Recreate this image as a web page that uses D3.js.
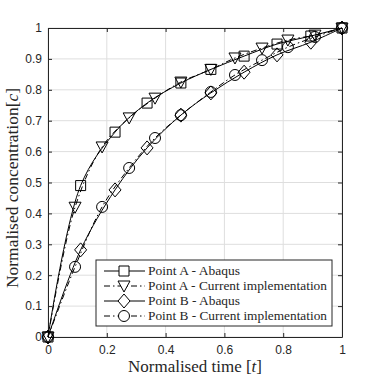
<!DOCTYPE html>
<html lang="en">
<head>
<meta charset="UTF-8">
<script src="https://cdnjs.cloudflare.com/ajax/libs/d3/7.8.5/d3.min.js"></script>
<style>
    body { margin: 0; padding: 0; background: #fff; }
    .tick text { font-family: "Liberation Sans", Arial, sans-serif; font-size: 12px; fill: #262626; }
    .lbl { font-family: "Liberation Serif", "DejaVu Serif", serif; fill: #262626; }
</style>
</head>
<body>
<div id="chart"></div>
<script>
// sample times
const tAbaqus = [0, 0.111, 0.228, 0.337, 0.452, 0.554, 0.667, 0.779, 0.894, 1];
const tCurrent = [0, 0.092, 0.184, 0.276, 0.364, 0.452, 0.554, 0.636, 0.728, 0.816, 0.908, 1];

// concentration values
const pointAAbaqus = [0, 0.49, 0.663, 0.757, 0.822, 0.866, 0.909, 0.948, 0.974, 1];
const pointACurrent = [0, 0.42, 0.615, 0.709, 0.773, 0.825, 0.866, 0.903, 0.935, 0.961, 0.977, 1];
const pointBAbaqus = [0, 0.282, 0.476, 0.612, 0.718, 0.79, 0.857, 0.913, 0.954, 1];
const pointBCurrent = [0, 0.227, 0.421, 0.547, 0.644, 0.718, 0.793, 0.848, 0.896, 0.938, 0.971, 1];

const xTicks = [0, 0.2, 0.4, 0.6, 0.8, 1];
const yTicks = [0, 0.1, 0.2, 0.3, 0.4, 0.5, 0.6, 0.7, 0.8, 0.9, 1];

const series = [
    {name: "Point A - Abaqus", t: tAbaqus, c: pointAAbaqus, marker: "square", dash: null, len: 92},
    {name: "Point A - Current implementation", t: tCurrent, c: pointACurrent, marker: "triangle", dash: "6,3,1.5,3", len: 179},
    {name: "Point B - Abaqus", t: tAbaqus, c: pointBAbaqus, marker: "diamond", dash: null, len: 92},
    {name: "Point B - Current implementation", t: tCurrent, c: pointBCurrent, marker: "circle", dash: "6,3,1.5,3", len: 179}
];

const W = 378, H = 378;
const margin = {left: 48, right: 36, top: 28, bottom: 41};

const svg = d3.select("#chart").append("svg")
    .attr("width", W).attr("height", H);

const x = d3.scaleLinear().domain([0, 1]).range([margin.left, W - margin.right]);
const y = d3.scaleLinear().domain([0, 1]).range([H - margin.bottom, margin.top]);

// grid
svg.append("g").selectAll("line").data(xTicks).enter().append("line")
    .attr("x1", d => x(d)).attr("x2", d => x(d))
    .attr("y1", y(0)).attr("y2", y(1))
    .attr("stroke", "#dedede").attr("stroke-width", 1);
svg.append("g").selectAll("line").data(yTicks).enter().append("line")
    .attr("y1", d => y(d)).attr("y2", d => y(d))
    .attr("x1", x(0)).attr("x2", x(1))
    .attr("stroke", "#dedede").attr("stroke-width", 1);

// axes (inward ticks)
const fmt = d => d3.format("~g")(d);
const xAxis = svg.append("g").attr("transform", `translate(0,${y(0)})`)
    .call(d3.axisBottom(x).tickValues(xTicks).tickFormat(fmt).tickSizeInner(-4).tickSizeOuter(0).tickPadding(8));
const yAxis = svg.append("g").attr("transform", `translate(${x(0)},0)`)
    .call(d3.axisLeft(y).tickValues(yTicks).tickFormat(fmt).tickSizeInner(-4).tickSizeOuter(0).tickPadding(6));
const xTop = svg.append("g").attr("transform", `translate(0,${y(1)})`)
    .call(d3.axisTop(x).tickValues(xTicks).tickFormat("").tickSizeInner(-4).tickSizeOuter(0));
const yRight = svg.append("g").attr("transform", `translate(${x(1)},0)`)
    .call(d3.axisRight(y).tickValues(yTicks).tickFormat("").tickSizeInner(-4).tickSizeOuter(0));
[xAxis, yAxis, xTop, yRight].forEach(a => {
    a.selectAll("path, line").attr("stroke", "#262626");
});

// marker shapes
function markerPath(type) {
    switch (type) {
        case "square": return "M-5,-5H5V5H-5Z";
        case "triangle": return "M-6,-5H6L0,6Z";
        case "diamond": return "M0,-7L6,0L0,7L-6,0Z";
        case "circle": return d3.symbol(d3.symbolCircle, 95)();
    }
}

const line = d3.line().x(d => x(d[0])).y(d => y(d[1])).curve(d3.curveCatmullRom.alpha(0.5));

const plot = svg.append("g");
series.forEach(s => {
    const pts = s.t.map((t, i) => [t, s.c[i]]);
    plot.append("path").datum(pts)
        .attr("d", line)
        .attr("fill", "none").attr("stroke", "#000").attr("stroke-width", 1)
        .attr("stroke-dasharray", s.dash);
    plot.append("g").selectAll("path").data(pts).enter().append("path")
        .attr("d", markerPath(s.marker))
        .attr("transform", d => `translate(${x(d[0])},${y(d[1])})`)
        .attr("fill", "none").attr("stroke", "#000").attr("stroke-width", 1);
});

// axis labels
const xl = svg.append("text").attr("class", "lbl")
    .attr("x", 128).attr("y", 372)
    .attr("textLength", 134).attr("lengthAdjust", "spacingAndGlyphs")
    .attr("font-size", 16);
xl.append("tspan").text("Normalised time [");
xl.append("tspan").attr("font-style", "italic").text("t");
xl.append("tspan").text("]");

const yl = svg.append("text").attr("class", "lbl")
    .attr("transform", `translate(18,288) rotate(-90)`)
    .attr("textLength", 200).attr("lengthAdjust", "spacingAndGlyphs")
    .attr("font-size", 16);
yl.append("tspan").text("Normalised concentration[");
yl.append("tspan").attr("font-style", "italic").text("c");
yl.append("tspan").text("]");

// legend
const lg = svg.append("g").attr("transform", "translate(96,260)");
lg.append("rect").attr("width", 236).attr("height", 66)
    .attr("fill", "#fff").attr("stroke", "#262626").attr("stroke-width", 1);
series.forEach((s, i) => {
    const yy = 11 + i * 15;
    lg.append("line").attr("x1", 8).attr("x2", 49).attr("y1", yy).attr("y2", yy)
        .attr("stroke", "#000").attr("stroke-dasharray", s.dash);
    lg.append("path").attr("d", markerPath(s.marker))
        .attr("transform", `translate(28,${yy})`)
        .attr("fill", "#fff").attr("stroke", "#000");
    lg.append("text").attr("class", "lbl")
        .attr("x", 52).attr("y", yy + 4).attr("font-size", 12.5)
        .attr("textLength", s.len).attr("lengthAdjust", "spacingAndGlyphs")
        .attr("fill", "#000").text(s.name);
});
</script>
</body>
</html>
